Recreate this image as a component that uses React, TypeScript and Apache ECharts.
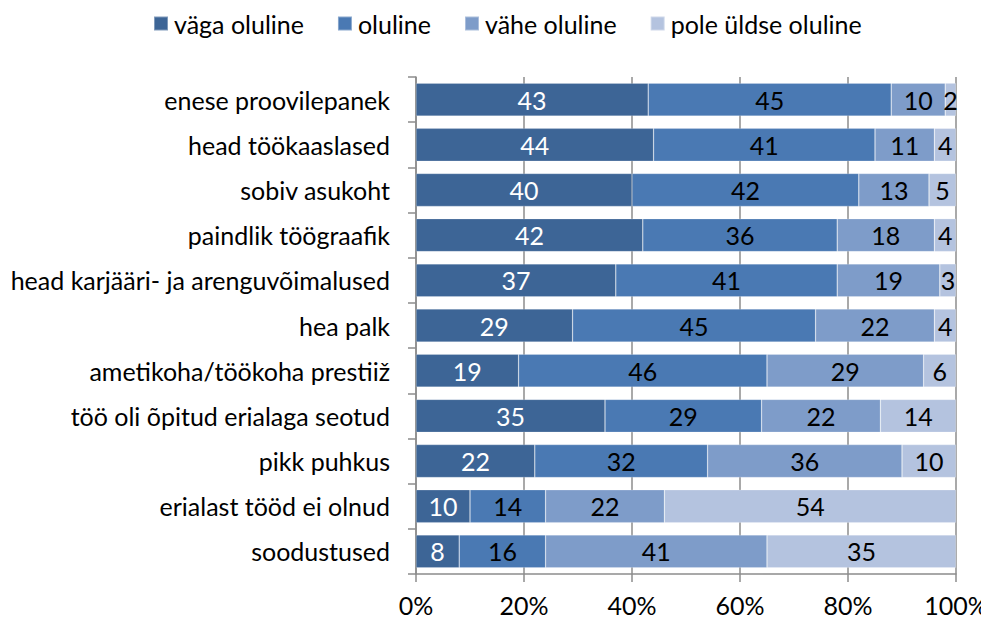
import React, { useEffect, useRef } from "react";
import * as echarts from "echarts";

const categories = [
  "enese proovilepanek",
  "head töökaaslased",
  "sobiv asukoht",
  "paindlik töögraafik",
  "head karjääri- ja arenguvõimalused",
  "hea palk",
  "ametikoha/töökoha prestiiž",
  "töö oli õpitud erialaga seotud",
  "pikk puhkus",
  "erialast tööd ei olnud",
  "soodustused",
];

const seriesNames = ["väga oluline", "oluline", "vähe oluline", "pole üldse oluline"];

const vagaOluline = [43, 44, 40, 42, 37, 29, 19, 35, 22, 10, 8];
const oluline = [45, 41, 42, 36, 41, 45, 46, 29, 32, 14, 16];
const vaheOluline = [10, 11, 13, 18, 19, 22, 29, 22, 36, 22, 41];
const poleOluline = [2, 4, 5, 4, 3, 4, 6, 14, 10, 54, 35];

const xTicks = [0, 20, 40, 60, 80, 100];

const colors = ["#3D6596", "#4A79B3", "#7E9CC9", "#B4C3DF"];
const labelColors = ["#ffffff", "#000000", "#000000", "#000000"];

const FONT = "Lato, 'Open Sans', sans-serif";
const FS = 25;

export default function App() {
  const ref = useRef<HTMLDivElement>(null);
  useEffect(() => {
    if (!ref.current) return;
    const chart = echarts.init(ref.current, null, { renderer: "svg" });
    const data = [vagaOluline, oluline, vaheOluline, poleOluline];
    chart.setOption({
      animation: false,
      textStyle: { fontFamily: FONT },
      legend: {
        top: 3,
        left: 145,
        padding: 0,
        itemWidth: 14,
        itemHeight: 14,
        itemGap: 33,
        icon: "rect",
        textStyle: { fontSize: FS, color: "#000", fontFamily: FONT, padding: [0, 0, 0, 1] },
        data: seriesNames,
      },
      grid: {
        left: 408,
        right: 33,
        top: 69,
        bottom: 45,
        containLabel: false,
        outerBoundsMode: "none",
      },
      xAxis: {
        type: "value",
        min: xTicks[0],
        max: xTicks[xTicks.length - 1],
        interval: 20,
        axisLine: { show: true, lineStyle: { color: "#8c8c8c", width: 1.5 } },
        axisTick: { show: true, length: 8, lineStyle: { color: "#8c8c8c", width: 1.5 } },
        splitLine: { show: true, lineStyle: { color: "#8c8c8c", width: 1.5 } },
        axisLabel: {
          formatter: "{value}%",
          fontSize: FS,
          lineHeight: 24,
          color: "#000",
          margin: 19,
          fontFamily: FONT,
        },
      },
      yAxis: {
        type: "category",
        inverse: true,
        data: categories,
        axisLine: { show: true, lineStyle: { color: "#8c8c8c", width: 1.5 } },
        axisTick: { show: true, length: 8, alignWithLabel: false, lineStyle: { color: "#8c8c8c", width: 1.5 } },
        axisLabel: { fontSize: FS, color: "#000", margin: 26, fontFamily: FONT },
      },
      series: seriesNames.map((name, i) => ({
        name,
        type: "bar",
        stack: "total",
        barCategoryGap: "27%",
        data: data[i],
        itemStyle: { color: colors[i], borderColor: "rgba(255,255,255,0.35)", borderWidth: 0.6 },
        label: {
          show: true,
          position: "inside",
          color: labelColors[i],
          fontSize: FS,
          fontFamily: FONT,
        },
      })),
    });
    return () => chart.dispose();
  }, []);
  return <div ref={ref} style={{ width: 981, height: 611 }} />;
}
